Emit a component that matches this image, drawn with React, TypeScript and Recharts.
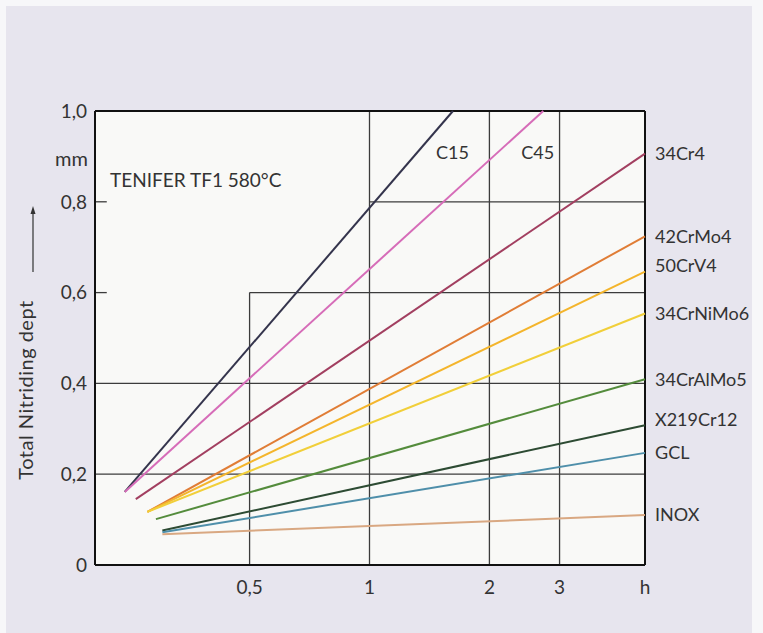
import { LineChart, Line, XAxis, YAxis, CartesianGrid, ReferenceLine } from 'recharts';

// steel grades, from steepest to flattest
const grades = ['C15', 'C45', '34Cr4', '42CrMo4', '50CrV4', '34CrNiMo6', '34CrAlMo5', 'X219Cr12', 'GCL', 'INOX'];
const startHours = [0.243, 0.243, 0.259, 0.277, 0.277, 0.277, 0.291, 0.302, 0.302, 0.302];
const startDepth = [0.161, 0.161, 0.145, 0.117, 0.117, 0.117, 0.101, 0.076, 0.072, 0.068];
const endHours = [1.62, 2.73, 4.916, 4.916, 4.916, 4.916, 4.916, 4.916, 4.916, 4.916];
const endDepth = [1.0, 1.0, 0.906, 0.724, 0.646, 0.554, 0.409, 0.308, 0.247, 0.11];

const xTicks = [0.5, 1, 2, 3, 4.916];
const yTicks = [0, 0.2, 0.4, 0.6, 0.8, 1];

const X_MIN = 0.2046;
const X_MAX = 4.916;

const colors = ['#34344c', '#d66cb8', '#a23f60', '#e07d36', '#f4b52c', '#f1cf3a', '#548c3c', '#2d4b33', '#4f8faa', '#d9a882'];
// label offset from the line end: [dx, dy]
const labelOffsets: Record<string, [number, number]> = {
  C15: [-17, 42],
  C45: [-22, 42],
  '50CrV4': [10, -6],
  X219Cr12: [10, -5],
};

const FONT = 'Lato, sans-serif';
const INK = '#333';

const fmtY = (v: number) => (v === 0 ? '0' : v.toFixed(1).replace('.', ','));
const fmtX = (v: number) => (v === X_MAX ? 'h' : v === 0.5 ? '0,5' : String(v));

function endLabel(name: string) {
  return (props: any) => {
    if (props.index !== 1) return null;
    const [dx, dy] = labelOffsets[name] ?? [10, 0];
    return (
      <text x={props.x + dx} y={props.y + dy} dy="0.35em" fontSize={18} fontFamily={FONT} fill={INK}>
        {name}
      </text>
    );
  };
}

const grid = '#3c3c3c';

export default function App() {
  return (
    <div style={{ position: 'absolute', left: 0, top: 0, width: 763, height: 633, background: '#f7f7f9', overflow: 'hidden' }}>
      <div style={{ position: 'absolute', left: 6, top: 6, width: 746, height: 627, background: '#e7e5ee' }} />
      <div style={{ position: 'absolute', left: 0, top: 0 }}>
        <LineChart width={763} height={633} margin={{ top: 111, right: 118, bottom: 38, left: 35 }}>
          <CartesianGrid horizontal={false} vertical={false} fill="#f9f9f7" />
          <XAxis
            dataKey="t"
            type="number"
            scale="log"
            domain={[X_MIN, X_MAX]}
            ticks={xTicks}
            tickFormatter={fmtX}
            tickLine={false}
            tickSize={8}
            tickMargin={8}
            height={30}
            axisLine={{ stroke: '#111', strokeWidth: 2 }}
            tick={{ fontSize: 19, fontFamily: FONT, fill: INK }}
          />
          <YAxis
            type="number"
            domain={[0, 1]}
            ticks={yTicks}
            tickFormatter={fmtY}
            tickLine={false}
            width={60}
            axisLine={{ stroke: '#111', strokeWidth: 2 }}
            tick={{ fontSize: 19, fontFamily: FONT, fill: INK }}
          />
          <ReferenceLine ifOverflow="visible" segment={[{ x: 0.5, y: 0 }, { x: 0.5, y: 0.6 }]} stroke={grid} strokeWidth={1.3} />
          <ReferenceLine ifOverflow="visible" x={1} stroke={grid} strokeWidth={1.3} />
          <ReferenceLine ifOverflow="visible" x={2} stroke={grid} strokeWidth={1.3} />
          <ReferenceLine ifOverflow="visible" x={3} stroke={grid} strokeWidth={1.3} />
          <ReferenceLine ifOverflow="visible" y={0.2} stroke={grid} strokeWidth={1.3} />
          <ReferenceLine ifOverflow="visible" y={0.4} stroke={grid} strokeWidth={1.3} />
          <ReferenceLine ifOverflow="visible" segment={[{ x: 0.5, y: 0.6 }, { x: X_MAX, y: 0.6 }]} stroke={grid} strokeWidth={1.3} />
          <ReferenceLine ifOverflow="visible" segment={[{ x: 1, y: 0.8 }, { x: X_MAX, y: 0.8 }]} stroke={grid} strokeWidth={1.3} />
          <ReferenceLine ifOverflow="visible" segment={[{ x: X_MIN, y: 0.6 }, { x: 0.219, y: 0.6 }]} stroke={grid} strokeWidth={1.3} />
          <ReferenceLine ifOverflow="visible" segment={[{ x: X_MIN, y: 0.8 }, { x: 0.219, y: 0.8 }]} stroke={grid} strokeWidth={1.3} />
          <ReferenceLine ifOverflow="visible" y={1} stroke="#111" strokeWidth={2} />
          <ReferenceLine ifOverflow="visible" x={X_MAX} stroke="#111" strokeWidth={2} />
          {grades.map((g, i) => (
            <Line
              key={g}
              data={[
                { t: startHours[i], d: startDepth[i] },
                { t: endHours[i], d: endDepth[i] },
              ]}
              dataKey="d"
              stroke={colors[i]}
              strokeWidth={2}
              dot={false}
              activeDot={false}
              isAnimationActive={false}
              label={endLabel(g)}
            />
          ))}
          <text x={55} y={166} fontSize={20} fontFamily={FONT} fill={INK}>mm</text>
          <text x={110} y={187} fontSize={19} fontFamily={FONT} fill={INK}>TENIFER TF1 580°C</text>
          <text x={33} y={390} transform="rotate(-90 33 390)" textAnchor="middle" fontSize={20} letterSpacing={0.5} fontFamily={FONT} fill={INK}>
            Total Nitriding dept
          </text>
          <line x1={33} y1={272} x2={33} y2={212} stroke={INK} strokeWidth={1.2} />
          <path d="M30.5 214 L33 206 L35.5 214 Z" fill={INK} />
        </LineChart>
      </div>
    </div>
  );
}
